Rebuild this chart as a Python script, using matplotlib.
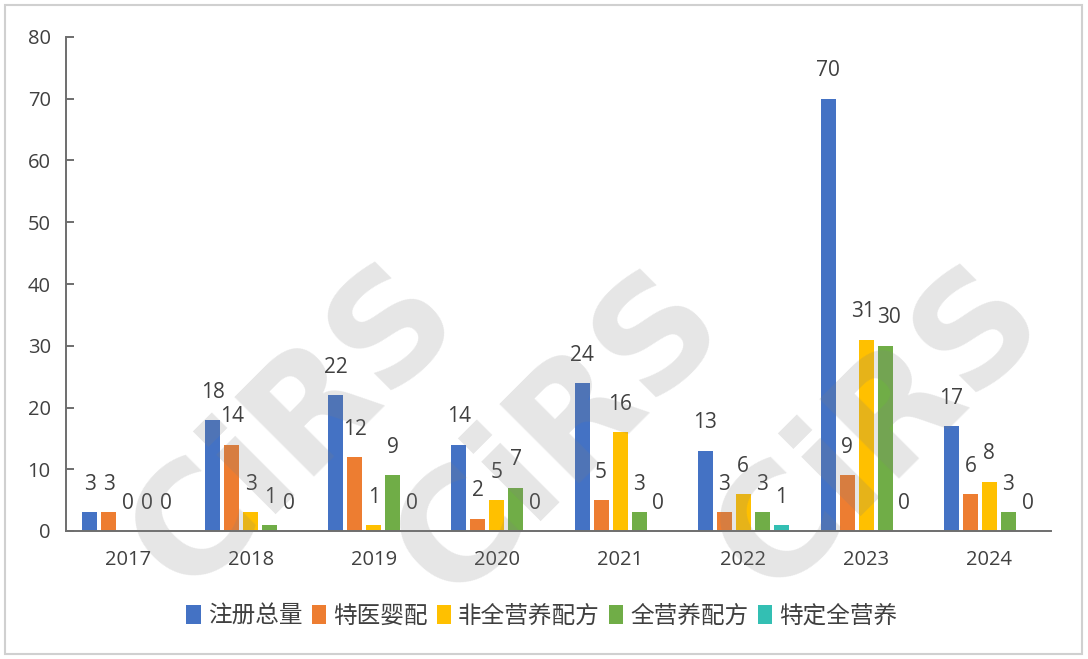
import matplotlib
matplotlib.use("Agg")
import matplotlib.pyplot as plt
from matplotlib.patches import Rectangle, Patch
import numpy as np

years = ["2017", "2018", "2019", "2020", "2021", "2022", "2023", "2024"]
series_names = ["注册总量", "特医婴配", "非全营养配方", "全营养配方", "特定全营养"]
total = [3, 18, 22, 14, 24, 13, 70, 17]
infant = [3, 14, 12, 2, 5, 3, 9, 6]
non_full = [0, 3, 1, 5, 16, 6, 31, 8]
full = [0, 1, 9, 7, 3, 3, 30, 3]
specific = [0, 0, 0, 0, 0, 1, 0, 0]
y_ticks = [0, 10, 20, 30, 40, 50, 60, 70, 80]

colors = ["#4472C4", "#ED7D31", "#FFC000", "#70AD47", "#33BFB3"]
text_color = "#404040"
fam = ["Open Sans", "Noto Sans CJK SC", "DejaVu Sans"]
plt.rcParams["font.family"] = fam

fig = plt.figure(figsize=(10.88, 6.59), dpi=100)
ax = fig.add_axes([66 / 1088, 1 - 531 / 659, (1051 - 66) / 1088, (531 - 37) / 659])

data = [total, infant, non_full, full, specific]
x = np.arange(len(years))
step = 0.1545
width = 0.122
for i, (vals, c, name) in enumerate(zip(data, colors, series_names)):
    pos = x + (i - 2) * step
    ax.bar(pos, vals, width=width, color=c, label=name, zorder=2)
    for j, (px, v) in enumerate(zip(pos, vals)):
        dx = 0
        # tight neighbours in 2023: nudge apart slightly
        if j == 6 and i == 2:
            dx = -2.5
        elif j == 6 and i == 3:
            dx = 2.5
        ax.annotate(str(v), (px, v), xytext=(dx, 20), textcoords="offset points",
                    ha="center", va="center", fontsize=15, color=text_color,
                    annotation_clip=False, zorder=3)

ax.set_xlim(-0.5, 7.5)
ax.set_ylim(0, 80)
ax.set_yticks(y_ticks)
ax.set_xticks(x)
ax.set_xticklabels(years)
for s in ["top", "right"]:
    ax.spines[s].set_visible(False)
for s in ["left", "bottom"]:
    ax.spines[s].set_color("#6e6e6e")
    ax.spines[s].set_linewidth(1.4)
ax.tick_params(axis="y", direction="in", length=6, width=1.4, color="#6e6e6e",
               labelsize=14.5, labelcolor=text_color, pad=11)
ax.tick_params(axis="x", length=0, labelsize=14.5, labelcolor=text_color, pad=14)

handles = [Patch(facecolor=c, edgecolor="none") for c in colors]
fig.legend(handles, series_names, loc="center", bbox_to_anchor=(542 / 1088, 1 - 616 / 659),
           ncol=5, frameon=False, handlelength=0.6, handleheight=0.9,
           handletextpad=0.3, columnspacing=0.4, labelcolor=text_color,
           prop={"family": ["Noto Sans CJK SC", "DejaVu Sans"], "size": 17})

# watermark
for cx, cy in [(295, 428), (560, 435), (880, 430)]:
    fig.text(cx / 1088, 1 - cy / 659, "CiRS", fontsize=110, fontweight="bold",
             family="DejaVu Sans", color="#808080", alpha=0.2, rotation=45,
             ha="center", va="center", zorder=10)

# frame
fig.patches.append(Rectangle((5 / 1088, 1 - 654 / 659), (1082 - 5) / 1088, (654 - 5) / 659,
                             transform=fig.transFigure, fill=False, edgecolor="#d0d0d0",
                             linewidth=1.5))

fig.savefig("out.png", dpi=100)
